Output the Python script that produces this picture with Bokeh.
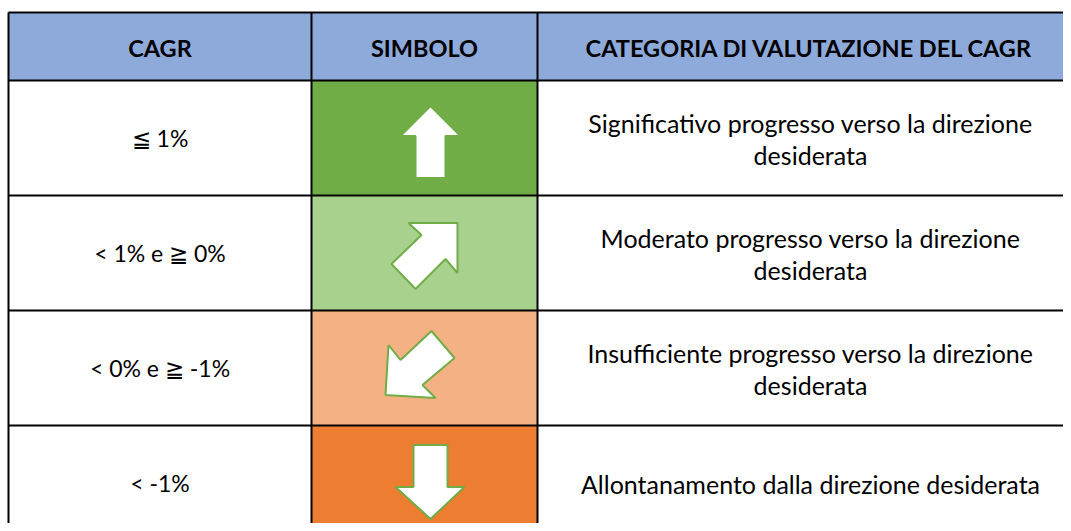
from bokeh.plotting import figure
from bokeh.models import Range1d
from bokeh.embed import file_html
from bokeh.resources import INLINE
from bokeh.core.properties import value

# ---- data ----
headers = ["CAGR", "SIMBOLO", "CATEGORIA DI VALUTAZIONE DEL CAGR"]
cagr_labels = ["\u2266 1%", "< 1% e \u2267 0%", "< 0% e \u2267 -1%", "< -1%"]
symbols = ["up", "up_right", "down_left", "down"]
descriptions = [
    "Significativo progresso verso la direzione\ndesiderata",
    "Moderato progresso verso la direzione\ndesiderata",
    "Insufficiente progresso verso la direzione\ndesiderata",
    "Allontanamento dalla direzione desiderata",
]
cell_colors = ["#70AD47", "#A9D18E", "#F4B183", "#ED7D31"]
header_color = "#8EAADB"
outline_color = "#70AD47"

# arrow shape templates (offsets from the symbol cell centre, px)
arrow_shapes = {
    "up": ([3, 33, 18, 18, -12, -12, -27], [-32, -2, -2, 40, 40, -2, -2]),
    "up_right": ([-19, 30, 30, 18, -12, -36, -6], [-30, -30, 20, 6, 36, 11, -18]),
    "down_left": ([-39, -27, 4, 27, -5, 8, -42], [-23, -8, -37, -10, 17, 30, 27]),
    "down": ([-14, 20, 20, 37, 3, -32, -14], [-38, -38, 4, 4, 36, 4, 4]),
}

# ---- layout ----
col_edges = [8, 311, 537, 1087]
table_top = 12
header_h = 68
row_h = 115
font = value("Lato")
line_gap = 32

n = len(cagr_labels)
row_tops = [table_top + header_h + i * row_h for i in range(n)]
row_mid = [t + row_h / 2 for t in row_tops]
col_mid = [(col_edges[i] + col_edges[i + 1]) / 2 for i in range(3)]

W, H = 1063, 523
p = figure(width=W, height=H, x_range=Range1d(0, W), y_range=Range1d(H, 0),
           output_backend="svg", toolbar_location=None, min_border=0)
p.axis.visible = False
p.grid.visible = False
p.outline_line_color = None
p.background_fill_color = "white"

# header band
p.quad(left=col_edges[:-1], right=col_edges[1:], top=table_top, bottom=table_top + header_h,
       fill_color=header_color, line_color=None)

# symbol cells
p.quad(left=[col_edges[1]] * n, right=[col_edges[2]] * n, top=row_tops,
       bottom=[t + row_h for t in row_tops], fill_color=cell_colors, line_color=None)

# arrows
xs, ys = [], []
for s, cy in zip(symbols, row_mid):
    dx, dy = arrow_shapes[s]
    xs.append([col_mid[1] + 3 + v for v in dx])
    ys.append([cy + v for v in dy])
p.patches(xs, ys, fill_color="white", line_color=outline_color, line_width=2)

# grid lines
h_lines = [table_top, table_top + header_h] + [t + row_h for t in row_tops[:-1]]
bottom = row_tops[-1] + row_h
p.segment(x0=[col_edges[0]] * len(h_lines), x1=[col_edges[-1]] * len(h_lines), y0=h_lines, y1=h_lines,
          line_color="black", line_width=2)
p.segment(x0=col_edges[:-1], x1=col_edges[:-1], y0=[table_top] * 3, y1=[bottom] * 3,
          line_color="black", line_width=2)

# header texts
p.text(x=[c - 3 if i == 2 else c for i, c in enumerate(col_mid)],
       y=[table_top + header_h / 2 + 1] * 3, text=headers, text_font=font,
       text_font_size="23.5px", text_font_style="bold", text_align="center",
       text_baseline="middle", text_color="black")

# CAGR texts
p.text(x=[col_mid[0]] * n, y=row_mid, text=cagr_labels, text_font=font, text_font_size="23px",
       text_align="center", text_baseline="middle", text_color="black")

# descriptions
dx_, dy_, dt_ = [], [], []
for desc, cy in zip(descriptions, row_mid):
    lines = desc.split("\n")
    k = len(lines)
    for j, ln in enumerate(lines):
        dx_.append(col_mid[2] - 2)
        dy_.append(cy + 1 + (j - (k - 1) / 2) * line_gap)
        dt_.append(ln)
p.text(x=dx_, y=dy_, text=dt_, text_font=font, text_font_size="25px",
       text_align="center", text_baseline="middle", text_color="black")

open("out.html", "w").write(file_html(p, INLINE))
